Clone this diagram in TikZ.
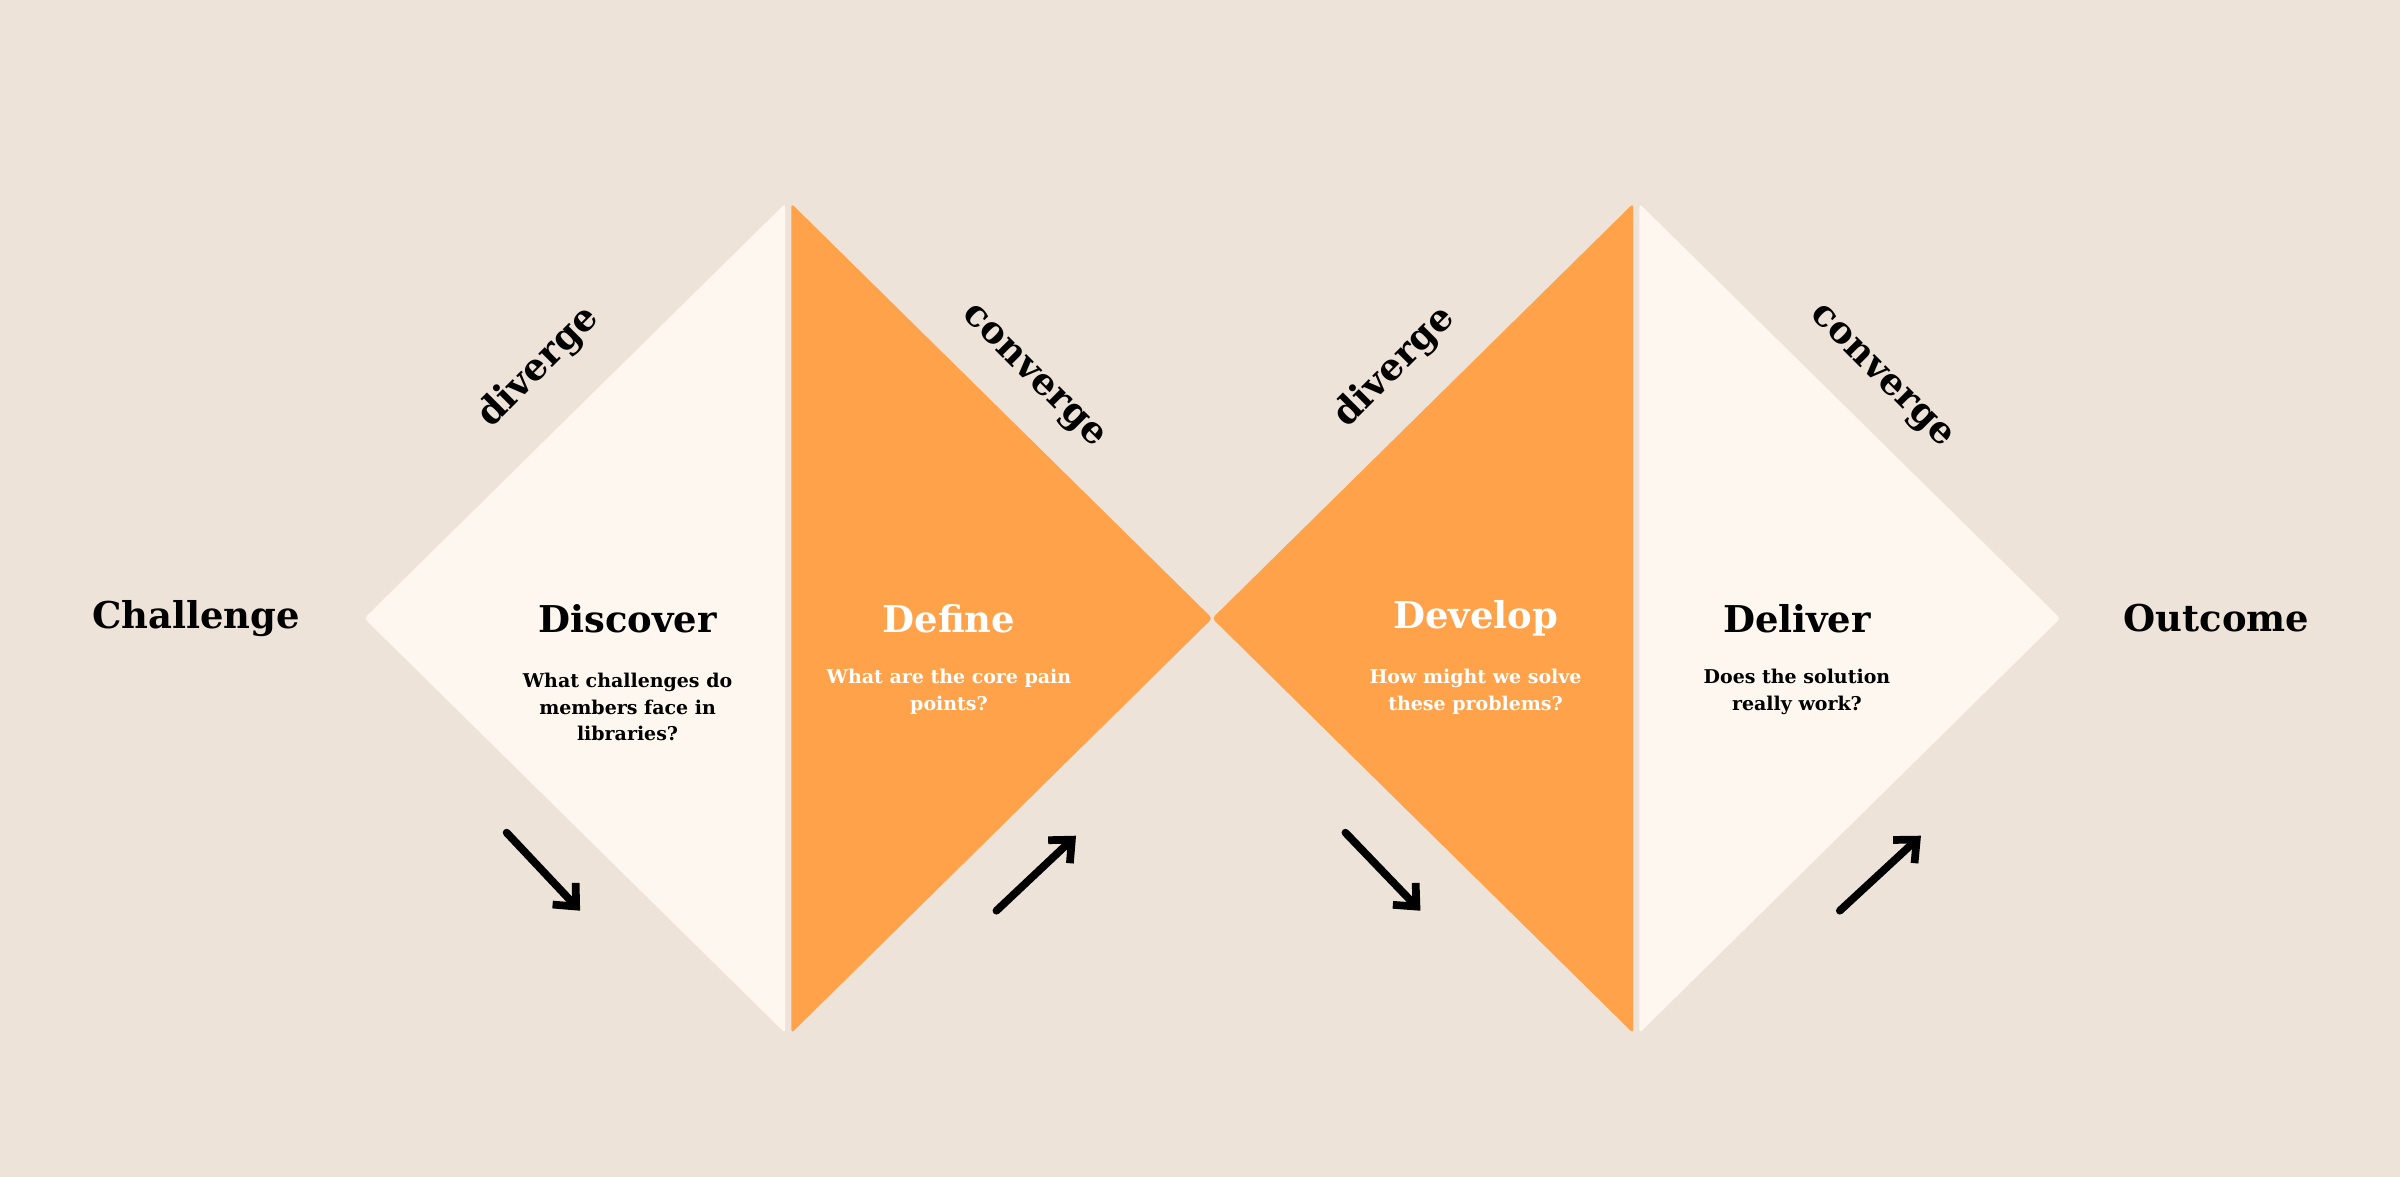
\documentclass[tikz,border=0pt]{standalone}
\usepackage{fontspec}
\setmainfont{DejaVu Serif}
\usetikzlibrary{arrows.meta}
\definecolor{bg}{HTML}{EEE3D8}
\definecolor{cream}{HTML}{FDF7F0}
\definecolor{org}{HTML}{FFA24A}
\begin{document}
\begin{tikzpicture}[x=0.015306cm,y=-0.015306cm,
  head/.style={font=\fontsize{10.5}{12}\selectfont\bfseries},
  sub/.style={font=\fontsize{5.4}{7.6}\selectfont\bfseries,align=center},
  rot/.style={font=\fontsize{10.5}{12}\selectfont\bfseries},
  arr/.style={line width=2.2pt,line cap=round,-{Straight Barb[length=5pt,width=9pt,line width=2.2pt]}}]
\fill[bg] (0,0) rectangle (1568,769);
\useasboundingbox (0,0) rectangle (1568,769);
\fill[cream,rounded corners=1pt] (238,404) -- (513,133) -- (513,675) -- cycle;
\fill[org,rounded corners=1pt] (517,133) -- (792,404) -- (517,675) -- cycle;
\fill[org,rounded corners=1pt] (792,404) -- (1067,133) -- (1067,675) -- cycle;
\fill[cream,rounded corners=1pt] (1071,133) -- (1346,404) -- (1071,675) -- cycle;
\node[head] (ch) at (128,404) {Challenge};
\node[head] (di) at (410,404) {Discover};
\node[head,white] (de) at (620,404) {Define};
\node[head,white] (dv) at (964,404) {Develop};
\node[head] (dl) at (1174,404) {Deliver};
\node[head] (oc) at (1448,404) {Outcome};
\node[sub] (s1) at (410,462) {What challenges do\\members face in\\libraries?};
\node[sub,white] (s2) at (620,452) {What are the core pain\\points?};
\node[sub,white] (s3) at (964,452) {How might we solve\\these problems?};
\node[sub] (s4) at (1174,452) {Does the solution\\really work?};
\node[rot,rotate=45] (r1) at (352,240) {diverge};
\node[rot,rotate=-45] (r2) at (674,247) {converge};
\node[rot,rotate=45] (r3) at (911,240) {diverge};
\node[rot,rotate=-45] (r4) at (1228,247) {converge};
\coordinate (a1) at (331,544); \coordinate (b1) at (379,595);
\coordinate (a2) at (651,595); \coordinate (b2) at (703,546);
\coordinate (a3) at (879,544); \coordinate (b3) at (928,595);
\coordinate (a4) at (1202,595); \coordinate (b4) at (1255,546);
\draw[arr] (a1) -- (b1);
\draw[arr] (a2) -- (b2);
\draw[arr] (a3) -- (b3);
\draw[arr] (a4) -- (b4);
\end{tikzpicture}
\end{document}
